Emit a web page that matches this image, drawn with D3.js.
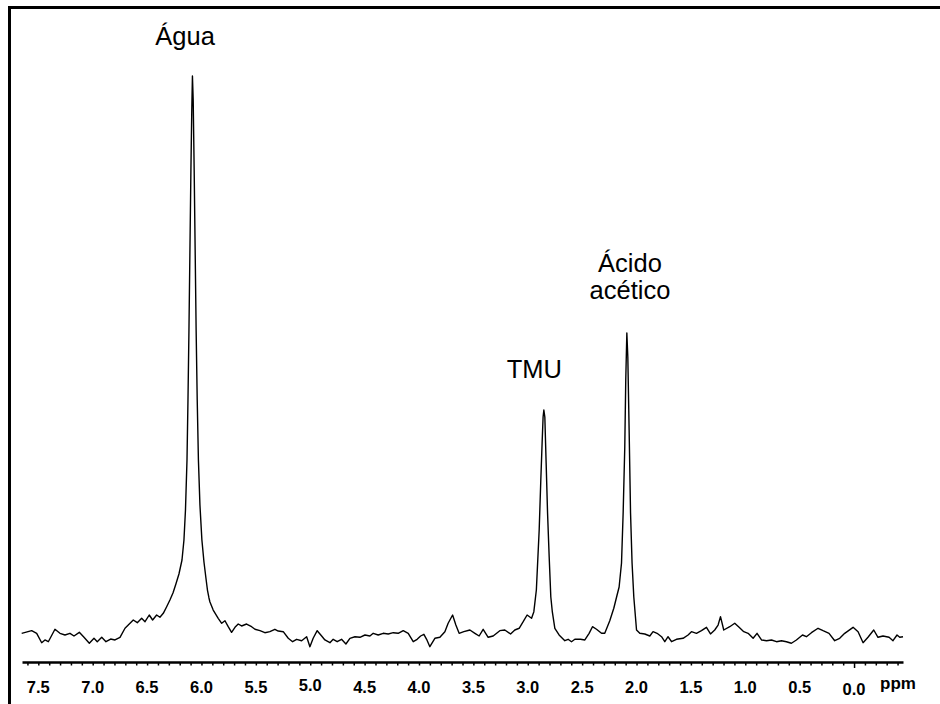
<!DOCTYPE html>
<html>
<head>
<meta charset="utf-8">
<script src="https://cdn.jsdelivr.net/npm/d3@7"></script>
<style>
  html, body { margin: 0; padding: 0; background: #fff; }
  svg { display: block; }
</style>
</head>
<body>
<svg id="chart" width="940" height="704"></svg>
<script>
// 1H NMR spectrum: chemical shift (ppm) and relative intensity (water peak = 100)
const ppm = [
  7.653, 7.561, 7.515, 7.469, 7.439, 7.408, 7.347, 7.301, 7.255, 7.209,
  7.172, 7.123, 7.080, 7.031, 6.988, 6.958, 6.917, 6.878, 6.835, 6.795,
  6.749, 6.703, 6.673, 6.627, 6.590, 6.550, 6.519, 6.480, 6.449, 6.412,
  6.382, 6.351, 6.320, 6.290, 6.262, 6.235, 6.207, 6.179, 6.161, 6.147,
  6.133, 6.124, 6.115, 6.106, 6.097, 6.089, 6.083, 6.076, 6.067, 6.058,
  6.049, 6.039, 6.028, 6.014, 5.996, 5.977, 5.959, 5.945, 5.931, 5.922,
  5.892, 5.846, 5.814, 5.784, 5.754, 5.723, 5.692, 5.662, 5.631, 5.585,
  5.539, 5.508, 5.462, 5.417, 5.371, 5.325, 5.294, 5.248, 5.202, 5.162,
  5.125, 5.079, 5.033, 5.003, 4.973, 4.936, 4.895, 4.865, 4.819, 4.789,
  4.752, 4.712, 4.672, 4.635, 4.589, 4.543, 4.497, 4.451, 4.421, 4.375,
  4.329, 4.283, 4.237, 4.191, 4.145, 4.099, 4.053, 4.017, 3.985, 3.955,
  3.930, 3.900, 3.854, 3.808, 3.762, 3.732, 3.691, 3.661, 3.631, 3.588,
  3.532, 3.486, 3.447, 3.410, 3.364, 3.318, 3.257, 3.211, 3.158, 3.119,
  3.079, 3.042, 3.006, 2.965, 2.944, 2.921, 2.895, 2.880, 2.868, 2.859,
  2.852, 2.843, 2.831, 2.818, 2.803, 2.788, 2.774, 2.751, 2.712, 2.659,
  2.629, 2.598, 2.567, 2.515, 2.475, 2.436, 2.405, 2.368, 2.322, 2.292,
  2.246, 2.209, 2.181, 2.160, 2.138, 2.123, 2.108, 2.099, 2.089, 2.080,
  2.068, 2.055, 2.041, 2.025, 2.000, 1.970, 1.924, 1.878, 1.848, 1.811,
  1.770, 1.740, 1.710, 1.678, 1.633, 1.572, 1.526, 1.495, 1.449, 1.403,
  1.357, 1.320, 1.281, 1.250, 1.228, 1.198, 1.143, 1.097, 1.057, 1.014,
  0.974, 0.928, 0.892, 0.851, 0.805, 0.759, 0.713, 0.667, 0.622, 0.576,
  0.530, 0.474, 0.438, 0.392, 0.331, 0.285, 0.230, 0.178, 0.132, 0.086,
  0.009, -0.037, -0.083, -0.128, -0.181, -0.220, -0.266, -0.322, -0.358, -0.395,
  -0.420, -0.450
];
const intensity = [
  0.48, 0.95, 0.48, -1.20, -0.71, -1.02, 1.20, 0.48, 0.18, 0.48,
  0.00, 0.66, -0.23, -1.30, -0.41, -1.02, -0.23, -1.02, -0.54, -0.71,
  -0.23, 1.38, 1.96, 2.86, 2.38, 3.16, 2.55, 3.75, 2.86, 3.75,
  3.34, 4.05, 5.23, 6.43, 7.68, 9.29, 11.07, 13.57, 17.14, 22.50,
  31.43, 42.14, 54.64, 68.93, 83.21, 93.93, 100.00, 95.71, 83.21, 68.93,
  54.64, 42.14, 31.43, 23.39, 17.14, 13.21, 10.36, 8.21, 6.79, 6.07,
  4.64, 3.16, 2.27, 2.73, 1.66, 0.66, 1.55, 2.14, 1.79, 2.14,
  1.66, 1.20, 0.95, 0.59, 0.77, 1.20, 0.89, 0.77, -0.41, -1.02,
  -0.59, -0.84, -0.13, -1.91, -0.41, 0.95, 0.00, -0.71, -1.20, -0.59,
  -1.02, -0.59, -1.43, -0.41, -0.13, -0.23, 0.18, 0.00, 0.48, 0.18,
  0.48, 0.36, 0.59, 0.48, 0.95, 0.48, -1.02, -0.59, 0.00, 0.30,
  -0.59, -1.91, -0.41, -0.23, 0.77, 2.27, 3.75, 1.96, 0.48, 0.77,
  1.07, 0.48, 0.00, 1.20, -0.23, 0.00, 0.95, 1.07, 0.36, 1.07,
  1.38, 2.55, 3.75, 3.16, 4.34, 8.21, 18.93, 27.86, 34.46, 39.11,
  40.36, 39.11, 30.89, 21.96, 14.11, 6.96, 4.29, 1.38, 0.18, -0.84,
  -0.59, -1.02, -0.59, -0.59, -0.71, 0.48, 1.66, 1.20, 0.48, 0.48,
  2.73, 4.95, 7.14, 8.75, 13.04, 21.96, 33.75, 45.71, 54.11, 49.82,
  36.79, 21.96, 13.04, 6.96, 1.07, 0.48, 0.36, 0.00, 0.77, 0.48,
  -0.13, -1.02, -0.13, -1.02, -0.59, -0.41, 0.18, 0.77, 0.48, 0.95,
  1.55, 0.36, 1.07, 1.96, 3.45, 1.07, 1.66, 2.27, 1.55, 0.77,
  0.48, -0.41, 0.48, -0.71, -0.84, -0.71, -1.02, -0.84, -1.02, -1.30,
  -0.71, 0.18, -0.13, 0.59, 1.38, 0.95, 0.48, -0.84, -0.41, 0.48,
  1.55, 0.77, -1.20, -0.23, 1.07, -0.23, 0.00, -0.23, -0.84, 0.18,
  -0.23, -0.13
];

// Axis: labelled shifts, minor tick spacing and unit
const tickLabels = [7.5, 7.0, 6.5, 6.0, 5.5, 5.0, 4.5, 4.0, 3.5, 3.0, 2.5, 2.0, 1.5, 1.0, 0.5, 0.0];
const minorTickStart = 7.6;
const minorTickEnd = -0.4;
const minorTickStep = 0.1;
const axisUnit = "ppm";

// Peak assignments: text lines and the shift they sit above
const peakNames = [["Água"], ["TMU"], ["Ácido", "acético"]];
const peakShifts = [6.15, 2.94, 2.06];

const W = 940, H = 704;
const svg = d3.select("#chart");

const x = d3.scaleLinear().domain([7.65, -0.45]).range([22, 903]);
const y = d3.scaleLinear().domain([0, 100]).range([636, 76]);
const axisY = 662;

// Frame (top and left edges visible)
svg.append("rect")
  .attr("x", 9.5).attr("y", 7.5)
  .attr("width", W + 20).attr("height", H + 20)
  .attr("fill", "none").attr("stroke", "#000").attr("stroke-width", 3);

// Spectrum trace
const points = ppm.map((p, i) => [p, intensity[i]]);
const line = d3.line().x(d => x(d[0])).y(d => y(d[1]));
svg.append("path")
  .datum(points)
  .attr("d", line)
  .attr("fill", "none")
  .attr("stroke", "#000")
  .attr("stroke-width", 1.4)
  .attr("stroke-linejoin", "round");

// Chemical shift axis
const minorTicks = d3.range(Math.round((minorTickStart - minorTickEnd) / minorTickStep) + 1)
  .map(i => +(minorTickStart - i * minorTickStep).toFixed(2));

const axis = d3.axisBottom(x)
  .tickValues(minorTicks)
  .tickSize(3)
  .tickSizeOuter(0)
  .tickFormat("");

const gAxis = svg.append("g")
  .attr("transform", `translate(0,${axisY})`)
  .call(axis);
gAxis.select(".domain").attr("stroke", "#000").attr("stroke-width", 2.6);
gAxis.selectAll(".tick line")
  .attr("stroke", "#000")
  .attr("stroke-width", 1.5)
  .attr("y2", d => (Math.abs(d) < 1e-9 ? 6 : 3.5));

// Tick labels
const labelNudge = { "5.0": -2, "0.0": 2 };
svg.append("g").selectAll("text")
  .data(tickLabels)
  .join("text")
  .attr("x", d => x(d))
  .attr("y", d => 693 + (labelNudge[d.toFixed(1)] || 0))
  .attr("text-anchor", "middle")
  .attr("font-family", "Liberation Sans, Arial, sans-serif")
  .attr("font-weight", "bold")
  .attr("font-size", 16.5)
  .attr("fill", "#000")
  .text(d => d.toFixed(1));

svg.append("text")
  .attr("x", 898)
  .attr("y", 689)
  .attr("text-anchor", "middle")
  .attr("font-family", "Liberation Sans, Arial, sans-serif")
  .attr("font-weight", "bold")
  .attr("font-size", 17)
  .attr("fill", "#000")
  .text(axisUnit);

// Peak labels
const labelBaselines = [45, 378, 272];
peakNames.forEach((lines, k) => {
  const t = svg.append("text")
    .attr("x", x(peakShifts[k]))
    .attr("y", labelBaselines[k])
    .attr("text-anchor", "middle")
    .attr("font-family", "Liberation Sans, Arial, sans-serif")
    .attr("font-size", 25.5)
    .attr("fill", "#000");
  lines.forEach((s, j) => {
    t.append("tspan")
      .attr("x", x(peakShifts[k]))
      .attr("dy", j === 0 ? 0 : 27)
      .text(s);
  });
});
</script>
</body>
</html>
